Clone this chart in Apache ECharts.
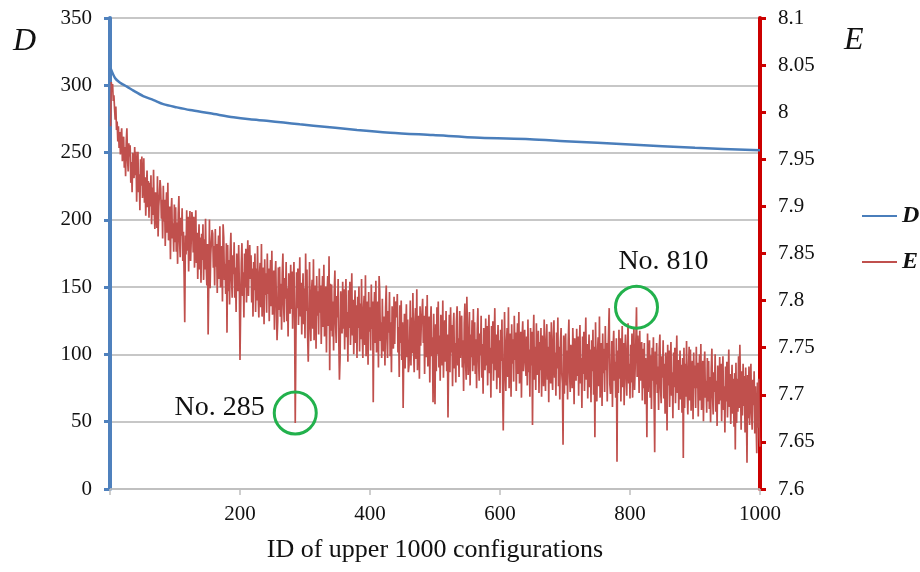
<!DOCTYPE html>
<html>
<head>
<meta charset="utf-8">
<script src="https://cdn.jsdelivr.net/npm/echarts@6/dist/echarts.min.js"></script>
<style>
  html, body { margin: 0; padding: 0; background: #ffffff; }
  #chart { width: 920px; height: 572px; }
</style>
</head>
<body>
<div id="chart"></div>
<script>
// Configuration IDs (1..1000) on the horizontal axis
const ids = Array.from({ length: 1000 }, (_, i) => i + 1);

// Left axis D: sampled along the smooth decreasing curve
const dIds = [1, 8, 15, 26, 36, 51, 67, 82, 103, 123, 154, 190, 215, 241, 267, 292, 313, 380, 431, 497, 569, 646, 700, 800, 900, 1000];
const dValues = [312.6, 305.2, 302.0, 299.0, 296.0, 292.0, 289.0, 286.0, 283.6, 281.6, 279.2, 276.2, 274.7, 273.6, 272.3, 271.0, 270.0, 266.8, 264.8, 263.0, 261.0, 259.9, 258.5, 256.0, 253.5, 251.7];

// Right axis E: one value per configuration ID (20 per row)
const eValues = [
  7.985, 8.032, 8.022, 8.030, 8.012, 8.018, 8.004, 7.992, 8.006, 7.981, 7.990, 7.969, 7.985, 7.962, 7.979, 7.955, 7.975, 7.983, 7.948, 7.967,
  7.974, 7.941, 7.963, 7.932, 7.969, 7.983, 7.950, 7.937, 7.967, 7.953, 7.965, 7.925, 7.947, 7.915, 7.957, 7.944, 7.930, 7.963, 7.933, 7.958,
  7.905, 7.940, 7.958, 7.915, 7.934, 7.896, 7.950, 7.922, 7.953, 7.909, 7.924, 7.951, 7.904, 7.931, 7.890, 7.918, 7.938, 7.899, 7.927, 7.888,
  7.925, 7.900, 7.933, 7.881, 7.920, 7.891, 7.939, 7.895, 7.876, 7.915, 7.916, 7.877, 7.932, 7.868, 7.900, 7.912, 7.928, 7.919, 7.887, 7.907,
  7.866, 7.922, 7.884, 7.907, 7.858, 7.895, 7.915, 7.872, 7.925, 7.864, 7.869, 7.900, 7.844, 7.894, 7.909, 7.866, 7.882, 7.852, 7.902, 7.862,
  7.899, 7.852, 7.883, 7.839, 7.892, 7.911, 7.864, 7.846, 7.888, 7.869, 7.898, 7.842, 7.873, 7.828, 7.777, 7.869, 7.849, 7.896, 7.853, 7.889,
  7.831, 7.874, 7.895, 7.842, 7.865, 7.894, 7.885, 7.851, 7.889, 7.835, 7.864, 7.896, 7.840, 7.872, 7.823, 7.857, 7.881, 7.833, 7.867, 7.819,
  7.871, 7.843, 7.881, 7.822, 7.865, 7.833, 7.887, 7.837, 7.816, 7.860, 7.764, 7.824, 7.886, 7.813, 7.849, 7.863, 7.875, 7.871, 7.835, 7.858,
  7.816, 7.876, 7.836, 7.860, 7.808, 7.848, 7.869, 7.823, 7.879, 7.814, 7.826, 7.858, 7.799, 7.881, 7.867, 7.822, 7.839, 7.807, 7.861, 7.766,
  7.859, 7.810, 7.843, 7.796, 7.852, 7.872, 7.823, 7.803, 7.848, 7.828, 7.862, 7.803, 7.835, 7.788, 7.850, 7.831, 7.810, 7.859, 7.814, 7.737,
  7.793, 7.839, 7.861, 7.805, 7.830, 7.782, 7.850, 7.814, 7.855, 7.798, 7.830, 7.864, 7.805, 7.839, 7.859, 7.823, 7.848, 7.798, 7.834, 7.783,
  7.841, 7.811, 7.850, 7.788, 7.834, 7.800, 7.858, 7.804, 7.782, 7.829, 7.840, 7.793, 7.860, 7.783, 7.820, 7.835, 7.775, 7.844, 7.806, 7.829,
  7.787, 7.850, 7.807, 7.834, 7.778, 7.820, 7.843, 7.794, 7.853, 7.785, 7.798, 7.832, 7.769, 7.826, 7.842, 7.795, 7.758, 7.778, 7.835, 7.790,
  7.836, 7.783, 7.818, 7.769, 7.828, 7.850, 7.797, 7.777, 7.824, 7.802, 7.841, 7.778, 7.813, 7.762, 7.829, 7.808, 7.786, 7.838, 7.791, 7.831,
  7.770, 7.817, 7.841, 7.782, 7.670, 7.757, 7.830, 7.792, 7.834, 7.774, 7.810, 7.846, 7.783, 7.819, 7.764, 7.802, 7.829, 7.775, 7.813, 7.760,
  7.850, 7.789, 7.833, 7.764, 7.735, 7.777, 7.841, 7.782, 7.757, 7.809, 7.822, 7.770, 7.844, 7.758, 7.800, 7.816, 7.749, 7.826, 7.784, 7.810,
  7.764, 7.834, 7.787, 7.816, 7.754, 7.801, 7.826, 7.772, 7.838, 7.762, 7.777, 7.815, 7.745, 7.808, 7.826, 7.773, 7.847, 7.726, 7.818, 7.768,
  7.817, 7.762, 7.799, 7.747, 7.809, 7.832, 7.777, 7.755, 7.805, 7.782, 7.823, 7.757, 7.716, 7.740, 7.810, 7.788, 7.765, 7.820, 7.770, 7.812,
  7.748, 7.798, 7.823, 7.761, 7.788, 7.735, 7.811, 7.771, 7.820, 7.753, 7.791, 7.829, 7.763, 7.801, 7.743, 7.783, 7.811, 7.755, 7.795, 7.739,
  7.804, 7.771, 7.815, 7.746, 7.797, 7.759, 7.823, 7.764, 7.739, 7.791, 7.805, 7.753, 7.827, 7.741, 7.783, 7.799, 7.732, 7.809, 7.767, 7.793,
  7.747, 7.817, 7.770, 7.799, 7.692, 7.784, 7.809, 7.755, 7.821, 7.745, 7.761, 7.799, 7.729, 7.826, 7.810, 7.757, 7.777, 7.739, 7.802, 7.752,
  7.746, 7.783, 7.731, 7.793, 7.816, 7.761, 7.739, 7.789, 7.766, 7.809, 7.741, 7.777, 7.724, 7.794, 7.772, 7.749, 7.804, 7.754, 7.796, 7.799,
  7.782, 7.807, 7.745, 7.772, 7.719, 7.795, 7.755, 7.800, 7.737, 7.777, 7.686, 7.748, 7.786, 7.728, 7.768, 7.796, 7.740, 7.780, 7.724, 7.731,
  7.756, 7.800, 7.731, 7.782, 7.744, 7.808, 7.749, 7.724, 7.776, 7.792, 7.738, 7.812, 7.726, 7.768, 7.784, 7.717, 7.794, 7.752, 7.778, 7.787,
  7.802, 7.755, 7.784, 7.722, 7.769, 7.794, 7.740, 7.806, 7.730, 7.748, 7.783, 7.713, 7.776, 7.794, 7.741, 7.761, 7.692, 7.786, 7.736, 7.690,
  7.775, 7.725, 7.793, 7.743, 7.799, 7.729, 7.763, 7.715, 7.785, 7.770, 7.731, 7.800, 7.718, 7.756, 7.779, 7.735, 7.789, 7.725, 7.764, 7.676,
  7.737, 7.785, 7.724, 7.793, 7.745, 7.774, 7.709, 7.769, 7.787, 7.728, 7.755, 7.713, 7.778, 7.794, 7.731, 7.760, 7.719, 7.789, 7.739, 7.774,
  7.784, 7.729, 7.758, 7.704, 7.776, 7.797, 7.735, 7.716, 7.804, 7.769, 7.721, 7.752, 7.788, 7.710, 7.764, 7.740, 7.779, 7.725, 7.791, 7.731,
  7.777, 7.722, 7.759, 7.707, 7.769, 7.792, 7.737, 7.715, 7.765, 7.742, 7.784, 7.718, 7.754, 7.701, 7.771, 7.749, 7.726, 7.781, 7.731, 7.773,
  7.710, 7.760, 7.785, 7.723, 7.750, 7.697, 7.773, 7.733, 7.778, 7.715, 7.754, 7.792, 7.726, 7.764, 7.706, 7.746, 7.774, 7.718, 7.758, 7.702,
  7.769, 7.736, 7.780, 7.711, 7.662, 7.724, 7.788, 7.729, 7.704, 7.756, 7.771, 7.719, 7.793, 7.707, 7.749, 7.765, 7.698, 7.775, 7.733, 7.759,
  7.714, 7.784, 7.737, 7.766, 7.704, 7.751, 7.776, 7.722, 7.788, 7.712, 7.729, 7.767, 7.697, 7.760, 7.778, 7.725, 7.745, 7.769, 7.735, 7.720,
  7.762, 7.710, 7.780, 7.724, 7.748, 7.698, 7.771, 7.731, 7.767, 7.668, 7.754, 7.785, 7.716, 7.751, 7.705, 7.776, 7.721, 7.743, 7.768, 7.702,
  7.756, 7.726, 7.771, 7.698, 7.763, 7.745, 7.709, 7.780, 7.732, 7.704, 7.758, 7.775, 7.716, 7.751, 7.692, 7.767, 7.742, 7.712, 7.777, 7.723,
  7.705, 7.760, 7.779, 7.718, 7.745, 7.699, 7.766, 7.728, 7.782, 7.709, 7.751, 7.695, 7.756, 7.771, 7.723, 7.712, 7.647, 7.763, 7.701, 7.748,
  7.765, 7.710, 7.747, 7.695, 7.757, 7.780, 7.725, 7.703, 7.753, 7.730, 7.707, 7.771, 7.743, 7.690, 7.760, 7.738, 7.715, 7.770, 7.720, 7.762,
  7.699, 7.749, 7.774, 7.712, 7.739, 7.686, 7.762, 7.722, 7.767, 7.704, 7.744, 7.782, 7.716, 7.754, 7.696, 7.736, 7.764, 7.708, 7.748, 7.692,
  7.758, 7.725, 7.769, 7.700, 7.751, 7.655, 7.777, 7.718, 7.693, 7.745, 7.761, 7.709, 7.783, 7.697, 7.739, 7.755, 7.688, 7.765, 7.723, 7.749,
  7.703, 7.773, 7.726, 7.755, 7.693, 7.740, 7.765, 7.792, 7.711, 7.701, 7.719, 7.757, 7.687, 7.750, 7.768, 7.715, 7.735, 7.697, 7.760, 7.629,
  7.747, 7.702, 7.769, 7.717, 7.760, 7.693, 7.736, 7.773, 7.708, 7.755, 7.689, 7.742, 7.764, 7.720, 7.699, 7.751, 7.776, 7.712, 7.733, 7.696,
  7.753, 7.713, 7.765, 7.697, 7.739, 7.772, 7.705, 7.730, 7.756, 7.793, 7.719, 7.763, 7.747, 7.702, 7.768, 7.715, 7.745, 7.756, 7.694, 7.749,
  7.707, 7.755, 7.690, 7.739, 7.720, 7.655, 7.765, 7.703, 7.734, 7.758, 7.697, 7.742, 7.685, 7.750, 7.715, 7.761, 7.699, 7.639, 7.746, 7.711,
  7.755, 7.702, 7.730, 7.684, 7.749, 7.764, 7.707, 7.691, 7.741, 7.718, 7.758, 7.696, 7.733, 7.680, 7.745, 7.724, 7.662, 7.753, 7.710, 7.747,
  7.687, 7.733, 7.756, 7.699, 7.724, 7.675, 7.745, 7.708, 7.750, 7.691, 7.728, 7.763, 7.702, 7.737, 7.684, 7.721, 7.747, 7.695, 7.732, 7.681,
  7.739, 7.633, 7.750, 7.686, 7.733, 7.698, 7.757, 7.702, 7.679, 7.727, 7.751, 7.694, 7.748, 7.683, 7.722, 7.736, 7.674, 7.745, 7.707, 7.731,
  7.686, 7.751, 7.707, 7.734, 7.677, 7.720, 7.743, 7.694, 7.754, 7.684, 7.701, 7.736, 7.672, 7.729, 7.746, 7.697, 7.715, 7.681, 7.739, 7.693,
  7.736, 7.685, 7.719, 7.671, 7.728, 7.749, 7.699, 7.679, 7.724, 7.703, 7.743, 7.682, 7.715, 7.667, 7.731, 7.711, 7.690, 7.740, 7.694, 7.733,
  7.672, 7.718, 7.741, 7.684, 7.709, 7.660, 7.730, 7.693, 7.735, 7.676, 7.713, 7.748, 7.687, 7.722, 7.669, 7.706, 7.732, 7.680, 7.717, 7.666,
  7.723, 7.642, 7.734, 7.670, 7.717, 7.682, 7.741, 7.686, 7.753, 7.711, 7.663, 7.725, 7.678, 7.733, 7.688, 7.720, 7.660, 7.729, 7.691, 7.628,
  7.721, 7.675, 7.730, 7.668, 7.705, 7.733, 7.680, 7.663, 7.716, 7.689, 7.725, 7.659, 7.709, 7.671, 7.638, 7.713, 7.665, 7.717, 7.655, 7.645
];

// Axis ranges and ticks
const xRange = { min: 0, max: 1000, step: 200 };
const dRange = { min: 0, max: 350, step: 50 };
const eRange = { min: 7.6, max: 8.1, step: 0.05 };

// Highlighted configurations
const markedIds = [285, 810];
const markedLabels = ['No. 285', 'No. 810'];

const SERIF = '"Liberation Serif", "Times New Roman", serif';
const BLUE = '#4a7ebb';
const RED = '#c0504d';
const GREEN = '#22b14c';

const chart = echarts.init(document.getElementById('chart'), null, { renderer: 'canvas' });

const dData = dIds.map((id, i) => [id, dValues[i]]);
const eData = ids.map((id, i) => [id, eValues[i]]);
const markData = markedIds.map((id, k) => ({ coord: [id, eValues[id - 1]], name: markedLabels[k] }));
markData[0].symbolOffset = [0, -10];
markData[0].label = { position: 'left', distance: 8, offset: [0, -5] };
markData[1].label = { position: 'top', distance: 9, offset: [27, 0] };

chart.setOption({
  animation: false,
  backgroundColor: '#ffffff',
  grid: { left: 110, right: 160, top: 18, bottom: 83, containLabel: false },
  legend: {
    orient: 'vertical',
    left: 857,
    top: 199,
    icon: 'rect',
    itemWidth: 35,
    itemHeight: 2,
    itemGap: 22,
    data: ['D', 'E'],
    textStyle: { fontFamily: SERIF, fontSize: 24, fontWeight: 'bold', fontStyle: 'italic', color: '#111' }
  },
  xAxis: {
    type: 'value',
    min: xRange.min,
    max: xRange.max,
    interval: xRange.step,
    name: 'ID of upper 1000 configurations',
    nameLocation: 'middle',
    nameGap: 48,
    nameTextStyle: { fontFamily: SERIF, fontSize: 26, color: '#111' },
    axisLine: { onZero: false, lineStyle: { color: '#bfbfbf', width: 1.5 } },
    axisTick: { show: true, length: 6, lineStyle: { color: '#bfbfbf', width: 1.5 } },
    axisLabel: {
      fontFamily: SERIF, fontSize: 21, color: '#111', margin: 15,
      formatter: v => (v === 0 ? '' : String(v))
    },
    splitLine: { show: false }
  },
  yAxis: [
    {
      type: 'value',
      position: 'left',
      min: dRange.min,
      max: dRange.max,
      interval: dRange.step,
      name: 'D',
      nameLocation: 'end',
      nameGap: -24,
      nameTextStyle: {
        fontFamily: SERIF, fontSize: 32, fontStyle: 'italic', color: '#111',
        align: 'right', verticalAlign: 'middle', padding: [0, 74, 0, 0]
      },
      axisLine: { show: true, lineStyle: { color: '#4f81bd', width: 4 } },
      axisTick: { show: true, inside: false, length: 6, lineStyle: { color: '#4f81bd', width: 3 } },
      axisLabel: { fontFamily: SERIF, fontSize: 21, color: '#111', margin: 18 },
      splitLine: { show: true, lineStyle: { color: '#b4b4b4', width: 1.5 } }
    },
    {
      type: 'value',
      position: 'right',
      min: eRange.min,
      max: eRange.max,
      interval: eRange.step,
      name: 'E',
      nameLocation: 'end',
      nameGap: -23,
      nameTextStyle: {
        fontFamily: SERIF, fontSize: 32, fontStyle: 'italic', color: '#111',
        align: 'left', verticalAlign: 'middle', padding: [0, 0, 0, 84]
      },
      axisLine: { show: true, lineStyle: { color: '#cc0000', width: 4 } },
      axisTick: { show: true, inside: false, length: 6, lineStyle: { color: '#cc0000', width: 3 } },
      axisLabel: {
        fontFamily: SERIF, fontSize: 21, color: '#111', margin: 18,
        formatter: v => String(Number(v.toFixed(2)))
      },
      splitLine: { show: false }
    }
  ],
  series: [
    {
      name: 'D',
      type: 'line',
      yAxisIndex: 0,
      data: dData,
      symbol: 'none',
      smooth: 0.3,
      lineStyle: { color: BLUE, width: 2.5 },
      itemStyle: { color: BLUE },
      z: 3
    },
    {
      name: 'E',
      type: 'line',
      yAxisIndex: 1,
      data: eData,
      symbol: 'none',
      lineStyle: { color: RED, width: 1.7 },
      itemStyle: { color: RED },
      z: 2,
      markPoint: {
        symbol: 'circle',
        symbolSize: 42,
        itemStyle: { color: 'rgba(0,0,0,0)', borderColor: GREEN, borderWidth: 3 },
        label: {
          show: true,
          fontFamily: SERIF,
          fontSize: 28,
          color: '#111',
          formatter: p => p.name
        },
        data: markData
      }
    }
  ]
});
</script>
</body>
</html>
